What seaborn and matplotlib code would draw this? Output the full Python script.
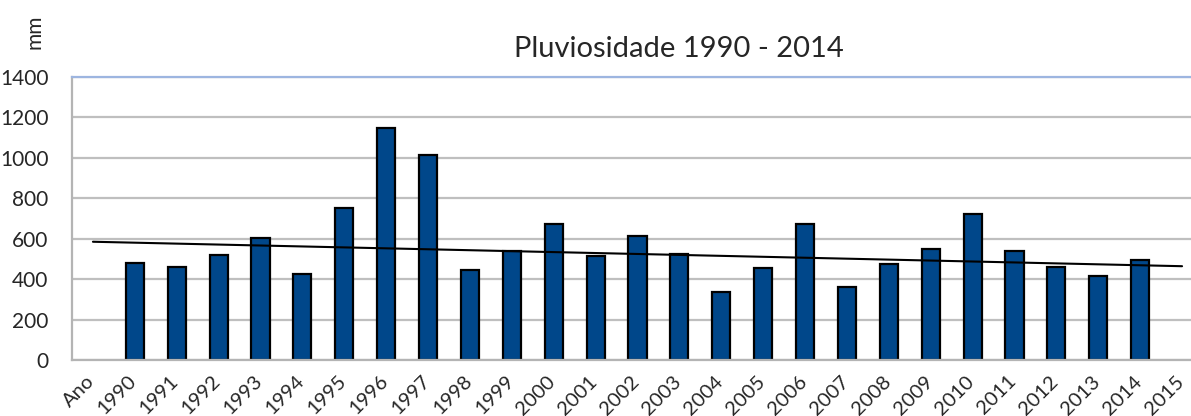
import pandas as pd
import matplotlib
matplotlib.use("Agg")
import matplotlib.pyplot as plt
import matplotlib.transforms as mtransforms
import seaborn as sns

# categorias do eixo x (Ano e 2015 ficam vazias)
categories = ["Ano"] + [str(y) for y in range(1990, 2016)]
years = [str(y) for y in range(1990, 2015)]
rain_mm = [481, 460, 520, 602, 427, 754, 1148, 1014, 445, 539, 674, 513, 615,
           526, 336, 454, 674, 361, 477, 549, 724, 541, 460, 417, 496]
trend_start = 585
trend_end = 464
y_ticks = [0, 200, 400, 600, 800, 1000, 1200, 1400]

df = pd.DataFrame({"Ano": years, "mm": rain_mm})

sns.set_style("white")
plt.rcParams['font.family'] = ['Lato', 'DejaVu Sans']

fig = plt.figure(figsize=(11.91, 4.16), dpi=100)
ax = fig.add_axes([72 / 1191, 56 / 416, 1131 / 1191, 283 / 416])

sns.barplot(data=df, x="Ano", y="mm", order=categories, color="#00478a",
            saturation=1, width=0.43, edgecolor="black", linewidth=1.6, ax=ax)

ax.plot([categories.index("Ano"), categories.index("2015")], [trend_start, trend_end],
        color="black", linewidth=1.5, zorder=4)

ax.set_xlim(-0.5, len(categories) - 0.5)
ax.set_ylim(0, 1400)
ax.set_yticks(y_ticks)
ax.yaxis.grid(True, color="#bfbfbf", linewidth=1.6)
ax.set_axisbelow(True)
ax.set_xlabel("")
ax.set_ylabel("")

for s in ["left", "bottom"]:
    ax.spines[s].set_color("#b4b4b4")
    ax.spines[s].set_linewidth(1.6)
ax.spines["top"].set_color("#9db5e0")
ax.spines["top"].set_linewidth(1.6)
ax.spines["right"].set_visible(False)

ax.tick_params(axis="y", length=0, pad=17, labelsize=15)
ax.tick_params(axis="x", length=0, pad=9, labelsize=14.5)
shift = mtransforms.ScaledTranslation(-5 / 72, 0, fig.dpi_scale_trans)
for lab in ax.get_xticklabels():
    lab.set_rotation(45)
    lab.set_ha("right")
    lab.set_rotation_mode("anchor")
    lab.set_transform(lab.get_transform() + shift)

fig.text(679 / 1191, 1 - 49 / 416, "Pluviosidade 1990 - 2014", ha="center", va="center",
         fontsize=21)
fig.text(35 / 1191, 1 - 32 / 416, "mm", rotation=90, ha="center", va="center", fontsize=15)

fig.savefig("out.png", dpi=100)
